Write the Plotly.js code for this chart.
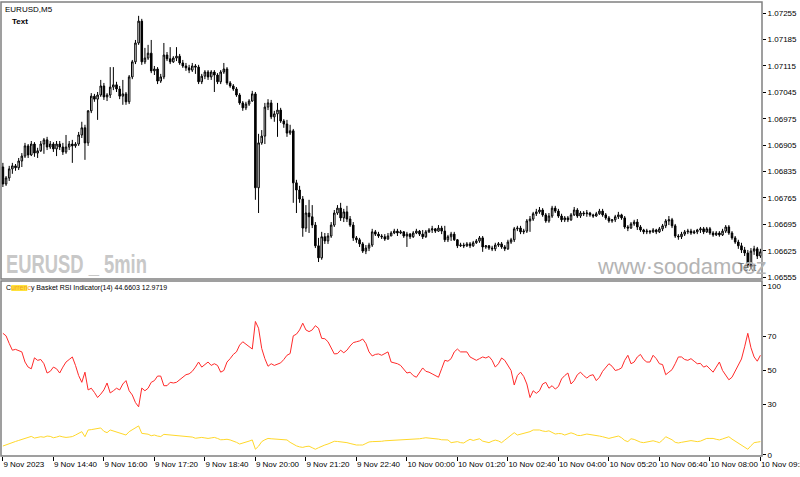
<!DOCTYPE html>
<html><head><meta charset="utf-8">
<script src="https://cdn.plot.ly/plotly-3.0.1.min.js"></script>
<style>html,body{margin:0;padding:0;background:#fff;overflow:hidden}#chart{width:800px;height:477px}</style>
</head><body><div id="chart"></div>
<script>
const chartSymbol = 'EURUSD,M5';
const indicatorTitle = 'Currency Basket RSI Indicator(14) 44.6603 12.9719';

const opens = [1.06847,1.06802,1.06818,1.06842,1.06850,1.06845,1.06863,1.06876,1.06903,1.06879,
1.06908,1.06884,1.06890,1.06908,1.06919,1.06900,1.06908,1.06895,1.06908,1.06900,
1.06887,1.06900,1.06908,1.06903,1.06908,1.06932,1.06951,1.06911,1.06996,1.07035,
1.07027,1.07038,1.07062,1.07033,1.07038,1.07059,1.07065,1.07054,1.07035,1.07041,
1.07020,1.07086,1.07126,1.07176,1.07234,1.07126,1.07136,1.07149,1.07102,1.07107,
1.07075,1.07086,1.07144,1.07134,1.07126,1.07136,1.07141,1.07123,1.07115,1.07110,
1.07104,1.07115,1.07112,1.07073,1.07088,1.07099,1.07086,1.07099,1.07091,1.07073,
1.07099,1.07107,1.07070,1.07062,1.07054,1.07038,1.07017,1.07004,1.07014,1.07022,
1.07041,1.06792,1.06911,1.06929,1.07006,1.07017,1.06980,1.06988,1.06998,1.06969,
1.06961,1.06937,1.06943,1.06805,1.06786,1.06762,1.06685,1.06725,1.06715,1.06693,
1.06638,1.06606,1.06662,1.06651,1.06664,1.06693,1.06725,1.06738,1.06712,1.06728,
1.06709,1.06693,1.06659,1.06654,1.06643,1.06624,1.06632,1.06640,1.06675,1.06669,
1.06664,1.06662,1.06656,1.06664,1.06672,1.06677,1.06672,1.06675,1.06664,1.06669,
1.06662,1.06672,1.06677,1.06669,1.06662,1.06675,1.06680,1.06683,1.06677,1.06685,
1.06677,1.06654,1.06662,1.06669,1.06654,1.06638,1.06640,1.06638,1.06643,1.06638,
1.06646,1.06651,1.06659,1.06635,1.06638,1.06632,1.06630,1.06640,1.06643,1.06635,
1.06630,1.06648,1.06654,1.06683,1.06685,1.06675,1.06677,1.06704,1.06709,1.06723,
1.06728,1.06733,1.06720,1.06704,1.06717,1.06738,1.06730,1.06717,1.06707,1.06712,
1.06707,1.06720,1.06733,1.06717,1.06725,1.06723,1.06725,1.06720,1.06717,1.06723,
1.06730,1.06720,1.06712,1.06704,1.06707,1.06715,1.06720,1.06712,1.06688,1.06685,
1.06696,1.06701,1.06688,1.06680,1.06675,1.06677,1.06675,1.06680,1.06675,1.06683,
1.06691,1.06704,1.06707,1.06691,1.06664,1.06662,1.06669,1.06675,1.06677,1.06672,
1.06675,1.06680,1.06683,1.06675,1.06683,1.06672,1.06667,1.06672,1.06667,1.06677,
1.06688,1.06672,1.06659,1.06648,1.06638,1.06627,1.06619,1.06587,1.06624,1.06630,
1.06611];

const highs = [1.06858,1.06823,1.06850,1.06858,1.06855,1.06871,1.06884,1.06911,1.06908,1.06916,
1.06913,1.06898,1.06916,1.06924,1.06927,1.06916,1.06913,1.06916,1.06916,1.06911,
1.06932,1.06916,1.06919,1.06913,1.06940,1.06967,1.06959,1.06998,1.07043,1.07041,
1.07046,1.07078,1.07070,1.07043,1.07112,1.07112,1.07073,1.07062,1.07078,1.07046,
1.07091,1.07131,1.07184,1.07248,1.07240,1.07163,1.07171,1.07184,1.07115,1.07112,
1.07094,1.07176,1.07152,1.07165,1.07141,1.07165,1.07147,1.07131,1.07123,1.07118,
1.07123,1.07120,1.07118,1.07094,1.07104,1.07104,1.07104,1.07104,1.07096,1.07104,
1.07123,1.07112,1.07075,1.07067,1.07059,1.07043,1.07022,1.07020,1.07027,1.07049,
1.07046,1.06935,1.06945,1.07017,1.07027,1.07025,1.06996,1.07017,1.07004,1.06974,
1.06972,1.06959,1.06948,1.06813,1.06797,1.06770,1.06746,1.06760,1.06746,1.06701,
1.06659,1.06675,1.06672,1.06672,1.06701,1.06733,1.06746,1.06752,1.06736,1.06744,
1.06717,1.06701,1.06664,1.06659,1.06648,1.06640,1.06646,1.06683,1.06680,1.06675,
1.06669,1.06669,1.06672,1.06677,1.06683,1.06683,1.06680,1.06677,1.06675,1.06672,
1.06677,1.06683,1.06680,1.06680,1.06680,1.06685,1.06691,1.06685,1.06693,1.06691,
1.06691,1.06667,1.06675,1.06675,1.06656,1.06646,1.06646,1.06648,1.06648,1.06651,
1.06656,1.06664,1.06664,1.06640,1.06640,1.06638,1.06646,1.06648,1.06648,1.06640,
1.06654,1.06659,1.06688,1.06691,1.06691,1.06683,1.06709,1.06717,1.06728,1.06736,
1.06741,1.06738,1.06725,1.06725,1.06744,1.06744,1.06736,1.06723,1.06717,1.06717,
1.06725,1.06741,1.06738,1.06730,1.06730,1.06733,1.06728,1.06723,1.06728,1.06736,
1.06736,1.06725,1.06717,1.06709,1.06720,1.06728,1.06723,1.06717,1.06693,1.06701,
1.06707,1.06709,1.06693,1.06683,1.06683,1.06680,1.06685,1.06683,1.06688,1.06696,
1.06709,1.06717,1.06712,1.06696,1.06669,1.06675,1.06680,1.06683,1.06683,1.06680,
1.06683,1.06688,1.06688,1.06688,1.06688,1.06677,1.06677,1.06677,1.06683,1.06693,
1.06693,1.06677,1.06664,1.06654,1.06646,1.06635,1.06627,1.06632,1.06638,1.06635,
1.06630];

const lows = [1.06794,1.06797,1.06810,1.06829,1.06837,1.06839,1.06847,1.06871,1.06871,1.06876,
1.06874,1.06871,1.06887,1.06882,1.06892,1.06895,1.06887,1.06876,1.06892,1.06879,
1.06882,1.06892,1.06858,1.06898,1.06903,1.06924,1.06866,1.06903,1.06990,1.07020,
1.06972,1.07033,1.07025,1.07022,1.07030,1.07051,1.07046,1.07027,1.07012,1.07012,
1.07014,1.07080,1.07120,1.07171,1.07118,1.07120,1.07131,1.07096,1.07091,1.07067,
1.07070,1.07080,1.07128,1.07120,1.07123,1.07128,1.07118,1.07110,1.07102,1.07096,
1.07099,1.07094,1.07067,1.07067,1.07080,1.07078,1.07078,1.07046,1.07067,1.07067,
1.07094,1.07065,1.07057,1.07049,1.07033,1.07012,1.06996,1.06998,1.07009,1.07020,
1.06760,1.06725,1.06906,1.06908,1.06998,1.06974,1.06967,1.06927,1.06964,1.06951,
1.06927,1.06932,1.06752,1.06725,1.06752,1.06662,1.06675,1.06672,1.06685,1.06632,
1.06595,1.06601,1.06643,1.06643,1.06659,1.06688,1.06720,1.06704,1.06701,1.06701,
1.06688,1.06651,1.06646,1.06635,1.06619,1.06616,1.06624,1.06635,1.06664,1.06659,
1.06656,1.06651,1.06654,1.06664,1.06669,1.06664,1.06669,1.06659,1.06635,1.06656,
1.06659,1.06669,1.06664,1.06656,1.06659,1.06672,1.06672,1.06672,1.06675,1.06669,
1.06648,1.06648,1.06651,1.06651,1.06632,1.06635,1.06632,1.06635,1.06632,1.06635,
1.06643,1.06646,1.06622,1.06630,1.06627,1.06624,1.06624,1.06635,1.06630,1.06624,
1.06627,1.06643,1.06648,1.06677,1.06669,1.06669,1.06672,1.06675,1.06704,1.06717,
1.06723,1.06715,1.06699,1.06699,1.06712,1.06725,1.06712,1.06701,1.06701,1.06701,
1.06704,1.06717,1.06712,1.06712,1.06717,1.06715,1.06715,1.06712,1.06715,1.06720,
1.06715,1.06707,1.06699,1.06699,1.06701,1.06709,1.06707,1.06683,1.06677,1.06683,
1.06691,1.06680,1.06675,1.06669,1.06669,1.06669,1.06672,1.06669,1.06672,1.06677,
1.06685,1.06693,1.06685,1.06659,1.06654,1.06656,1.06664,1.06669,1.06667,1.06669,
1.06669,1.06672,1.06669,1.06672,1.06667,1.06662,1.06664,1.06662,1.06664,1.06672,
1.06667,1.06654,1.06643,1.06630,1.06619,1.06611,1.06579,1.06582,1.06614,1.06603,
1.06606];

const closes = [1.06802,1.06818,1.06842,1.06850,1.06845,1.06863,1.06876,1.06903,1.06879,1.06908,
1.06884,1.06890,1.06908,1.06919,1.06900,1.06908,1.06895,1.06908,1.06900,1.06887,
1.06900,1.06908,1.06903,1.06908,1.06932,1.06951,1.06911,1.06996,1.07035,1.07027,
1.07038,1.07062,1.07033,1.07038,1.07059,1.07065,1.07054,1.07035,1.07041,1.07020,
1.07086,1.07126,1.07176,1.07234,1.07126,1.07136,1.07149,1.07102,1.07107,1.07075,
1.07086,1.07144,1.07134,1.07126,1.07136,1.07141,1.07123,1.07115,1.07110,1.07104,
1.07115,1.07112,1.07073,1.07088,1.07099,1.07086,1.07099,1.07091,1.07073,1.07099,
1.07107,1.07070,1.07062,1.07054,1.07038,1.07017,1.07004,1.07014,1.07022,1.07041,
1.06792,1.06911,1.06929,1.07006,1.07017,1.06980,1.06988,1.06998,1.06969,1.06961,
1.06937,1.06943,1.06805,1.06786,1.06762,1.06685,1.06725,1.06715,1.06693,1.06638,
1.06606,1.06662,1.06651,1.06664,1.06693,1.06725,1.06738,1.06712,1.06728,1.06709,
1.06693,1.06659,1.06654,1.06643,1.06624,1.06632,1.06640,1.06675,1.06669,1.06664,
1.06662,1.06656,1.06664,1.06672,1.06677,1.06672,1.06675,1.06664,1.06669,1.06662,
1.06672,1.06677,1.06669,1.06662,1.06675,1.06680,1.06683,1.06677,1.06685,1.06677,
1.06654,1.06662,1.06669,1.06654,1.06638,1.06640,1.06638,1.06643,1.06638,1.06646,
1.06651,1.06659,1.06635,1.06638,1.06632,1.06630,1.06640,1.06643,1.06635,1.06630,
1.06648,1.06654,1.06683,1.06685,1.06675,1.06677,1.06704,1.06709,1.06723,1.06728,
1.06733,1.06720,1.06704,1.06717,1.06738,1.06730,1.06717,1.06707,1.06712,1.06707,
1.06720,1.06733,1.06717,1.06725,1.06723,1.06725,1.06720,1.06717,1.06723,1.06730,
1.06720,1.06712,1.06704,1.06707,1.06715,1.06720,1.06712,1.06688,1.06685,1.06696,
1.06701,1.06688,1.06680,1.06675,1.06677,1.06675,1.06680,1.06675,1.06683,1.06691,
1.06704,1.06707,1.06691,1.06664,1.06662,1.06669,1.06675,1.06677,1.06672,1.06675,
1.06680,1.06683,1.06675,1.06683,1.06672,1.06667,1.06672,1.06667,1.06677,1.06688,
1.06672,1.06659,1.06648,1.06638,1.06627,1.06619,1.06587,1.06624,1.06630,1.06611,
1.06622];

const rsiRed = [72,70.5,66,62,62.5,61.5,61,55,52,51,
57.5,56,56.5,54,48.5,49.5,52,51,48.5,52,
55,56.5,58,53,47,43,49,38.5,39.5,37,
34,36,38.5,42.6,36.7,38,39.5,38.5,42,44,
38,35.5,31,28.5,39.6,38,39.5,43,44,46.7,
46.7,41,41,43,42.6,43,44.5,45.6,47.5,48,
49.5,52,55,52,53.5,55,53,54,53,49,
50,55,57,59.5,61,65,67,65.5,64.5,62.7,
79,75,63,57,52.5,54,53,54,54.5,56.5,
59,60,70.5,71.5,74,78,74,73,74,76.5,
75,69,68.8,67,63,59.8,60,62,60.5,62,
64.5,66.5,67,67.5,68.6,66,61,58.6,59.5,59.8,
59,60,61,55,54.5,54,53,51,48.5,49,
47,46,49,51.5,49.5,49,48,47,46,51,
56,55.5,57,61,62.7,61,61,61,58,57,
56,57,58,57.4,58.3,56,52,54,57.4,56,
53,50,41.4,47,49,46.5,42,34,38,36.5,
38,42,43,39.5,41,39,40.5,45,47,48.5,
42,44,47.5,49,47,45.5,47,47.5,44,46,
49.5,51.5,54,52.5,50,50.5,51.5,56,59,54,
55,58,59.5,56.5,55,55,59,57,54,53.5,
47.5,49,50.5,54,58,58,56.5,56,57,55.5,
54,54.2,52,52.8,51,49,52,55,50,47,
44.5,46,49.5,53,56.8,64,72,63.5,58,55.5,
59];

const rsiYellow = [5.3,6,7,7.6,8,8.6,9.2,9.6,10.3,11,
10,10.5,10.8,10.5,11.2,11,10.2,10.6,11.2,10.7,
10.4,10.6,10.9,11.8,12.6,13.8,10.8,14.8,15,15.2,
15.6,16,14,13.2,14.8,14.2,13.6,13.2,12.5,11.8,
13.8,14.8,16.2,17.2,12.8,12.6,12.3,11.4,11.8,11.2,
10.9,12.2,12,11.9,11.6,11.2,11,10.8,10.9,10.8,
10.6,9.9,10.2,10.4,10.1,9.8,10.1,10.4,9.8,9,
9.1,9.3,8.9,8.4,7.5,6.5,7,7.3,8.2,8.9,
3.4,5.2,7.9,9,9.8,9.6,9.4,9.3,9.1,9,
8.9,7.5,6.2,5.4,4.8,4.5,5,5.2,4.3,3.4,
4.3,5.3,5.9,6.5,7.3,8.1,8,7.9,7.6,7.3,
6.8,6.3,5.9,5.9,5.9,6.8,7.7,7.9,7.9,7.9,
8.1,8.4,8.5,8.7,8.8,8.9,8.9,8.9,8.9,8.9,
9.1,9.3,9.6,9.9,10.2,10,9.9,9.8,9.4,9,
8.9,8.9,7.3,7.5,7.9,7.3,7.1,8.3,9.3,8.6,
9.2,9.6,8.2,7.7,7.3,8.2,8.8,8.3,7.3,8.8,
10.4,12,13.2,11.8,12.2,12.6,13.1,13.8,14.8,14.8,
14.8,14.2,13.9,14.3,13.4,12.4,12.7,12.6,11.8,12.4,
13.1,12.5,11.6,11.5,12,12.4,12.1,11.9,11.8,11.2,
10.8,10.3,9.8,10.3,10.8,11.2,10.2,8.6,7.9,9.6,
9.2,8.3,7.6,7.3,7.8,8.3,8.4,7.9,7.3,8.8,
10.8,9.9,9,7.5,7.1,7.5,7.9,8.2,8.5,8.2,
7.9,8.2,9.2,9.8,9.8,9.8,9.3,8.9,9.5,10.2,
10.8,9.4,8.2,7.4,5.8,4.5,3.4,5.5,7.3,7.6,
7.9];

const priceTicks = [1.06555,1.06625,1.06695,1.06765,1.06835,1.06905,1.06975,1.07045,1.07115,1.07185,1.07255];
const priceTickText = ['1.06555','1.06625','1.06695','1.06765','1.06835','1.06905','1.06975','1.07045','1.07115','1.07185','1.07255'];
const rsiTicks = [0,30,50,70,100];
const timeTickBars = [0,16,32,48,64,80,96,112,128,144,160,176,192,208,224,240];
const timeTickLabels = ['9 Nov 2023','9 Nov 14:40','9 Nov 16:00','9 Nov 17:20','9 Nov 18:40','9 Nov 20:00','9 Nov 21:20','9 Nov 22:40','10 Nov 00:00','10 Nov 01:20','10 Nov 02:40','10 Nov 04:00','10 Nov 05:20','10 Nov 06:40','10 Nov 08:00','10 Nov 09:20'];

const barIndex = opens.map((_, i) => i);
const FONT = 'Liberation Sans, Arial, sans-serif';

const traces = [
  {type:'candlestick', x:barIndex, open:opens, high:highs, low:lows, close:closes,
   xaxis:'x', yaxis:'y', whiskerwidth:0, hoverinfo:'skip', showlegend:false,
   increasing:{line:{color:'#000000', width:1}, fillcolor:'#ffffff'},
   decreasing:{line:{color:'#000000', width:1}, fillcolor:'#000000'}},
  {type:'scatter', mode:'lines', x:barIndex, y:rsiRed, xaxis:'x', yaxis:'y2',
   line:{color:'#ff2a2a', width:1}, hoverinfo:'skip', showlegend:false},
  {type:'scatter', mode:'lines', x:barIndex, y:rsiYellow, xaxis:'x', yaxis:'y2',
   line:{color:'#ffd82a', width:1}, hoverinfo:'skip', showlegend:false}
];

const layout = {
  width:800, height:477,
  margin:{l:1, r:38, t:2, b:21, pad:0},
  paper_bgcolor:'#ffffff', plot_bgcolor:'#ffffff',
  showlegend:false,
  font:{family:FONT, size:8, color:'#000'},
  xaxis:{range:[-0.6,240.5], anchor:'y2', tickmode:'array', tickvals:timeTickBars, ticktext:timeTickLabels,
    tickangle:0, ticks:'outside', ticklen:4, tickwidth:1, tickcolor:'#000', ticklabelposition:'outside right',
    ticklabeloverflow:'allow', tickfont:{family:FONT, size:8, color:'#000'}, showgrid:false, zeroline:false, showline:false,
    rangeslider:{visible:false}, fixedrange:true},
  yaxis:{domain:[0.3899,1], range:[1.0655,1.072847], side:'right', anchor:'x', tickmode:'array',
    tickvals:priceTicks, ticktext:priceTickText, ticks:'outside', ticklen:3, tickcolor:'#000',
    tickfont:{family:FONT, size:8, color:'#000'}, showgrid:false, zeroline:false, showline:false, fixedrange:true},
  yaxis2:{domain:[0,0.3855], range:[-0.6,102.96], side:'right', anchor:'x', tickmode:'array',
    tickvals:rsiTicks, ticktext:rsiTicks.map(String), ticks:'outside', ticklen:3, tickcolor:'#000',
    tickfont:{family:FONT, size:8, color:'#000'}, showgrid:false, zeroline:false, showline:false, fixedrange:true},
  shapes:[
    {type:'rect', xref:'paper', yref:'paper', x0:0, x1:1, y0:0.3899, y1:1, line:{color:'#808080', width:1.5}, layer:'above'},
    {type:'rect', xref:'paper', yref:'paper', x0:0, x1:1, y0:0, y1:0.3855, line:{color:'#808080', width:1.5}, layer:'above'},
    {type:'rect', xref:'paper', yref:'paper', x0:0.0135, x1:0.0345, y0:0.3634, y1:0.3767, fillcolor:'#ffe23a', line:{width:0}, layer:'below'}
  ],
  annotations:[
    {xref:'paper', yref:'paper', x:0.002, y:0.998, xanchor:'left', yanchor:'top', text:chartSymbol, showarrow:false,
     font:{family:FONT, size:8, color:'#000'}},
    {xref:'paper', yref:'paper', x:0.012, y:0.9714, xanchor:'left', yanchor:'top', text:'<b>Text</b>', showarrow:false,
     font:{family:FONT, size:8, color:'#000'}},
    {xref:'paper', yref:'paper', x:0.006, y:0.4229, xanchor:'left', yanchor:'middle', text:'EURUSD _ 5min', showarrow:false,
     font:{family:FONT, size:25, weight:700, color:'#c8c8c8'}},
    {xref:'paper', yref:'paper', x:0.7806, y:0.4163, xanchor:'left', yanchor:'middle', text:'www·soodamooz', showarrow:false,
     font:{family:FONT, size:22, color:'#b4b4b4'}},
    {xref:'paper', yref:'paper', x:0.981, y:0.4141, xanchor:'center', yanchor:'middle', text:'Text', showarrow:false,
     font:{family:FONT, size:10, color:'#707070'}},
    {xref:'paper', yref:'paper', x:0.004, y:0.370, xanchor:'left', yanchor:'middle',
     text:'C<span style="color:#f0a020">urrenc</span>y Basket RSI Indicator(14) 44.6603 12.9719', showarrow:false,
     font:{family:FONT, size:7, color:'#000'}}
  ]
};

Plotly.newPlot('chart', traces, layout, {displayModeBar:false, staticPlot:true}).then(function(){
  document.querySelectorAll('text.annotation-text').forEach(function(t){
    if (t.textContent === 'EURUSD _ 5min') {
      t.setAttribute('textLength', '141');
      t.setAttribute('lengthAdjust', 'spacingAndGlyphs');
      const r = t.getBoundingClientRect();
      const dx = 6 - r.left;
      const tr = t.getAttribute('transform') || '';
      t.setAttribute('transform', (tr + ' translate(' + dx.toFixed(1) + ',0)').trim());
    }
  });
});
</script>
</body></html>
